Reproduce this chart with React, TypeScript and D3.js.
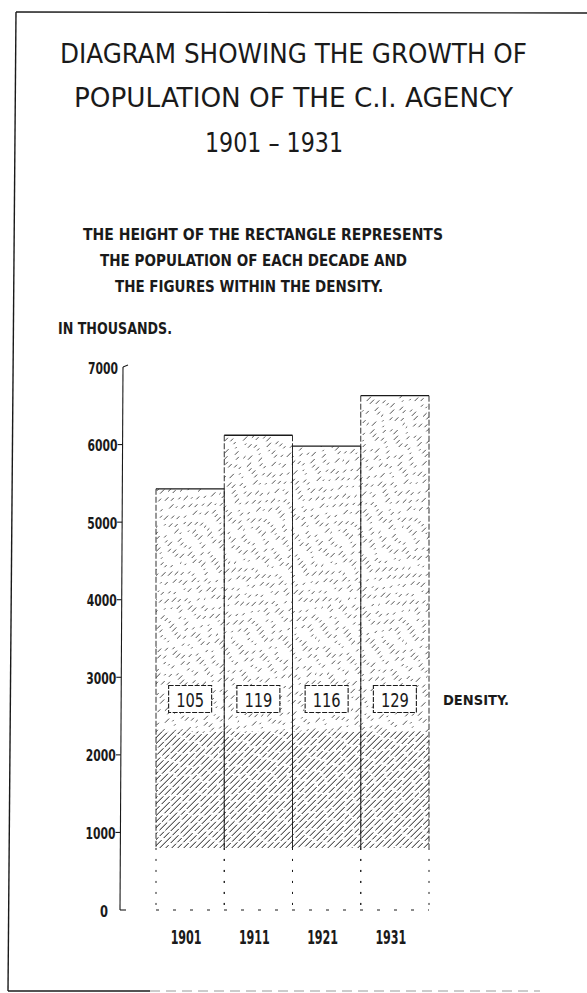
import * as d3 from "d3";

const years = ["1901", "1911", "1921", "1931"];
const population = [5430, 6120, 5980, 6630]; // thousands
const density = [105, 119, 116, 129];
const yTicks = [0, 1000, 2000, 3000, 4000, 5000, 6000, 7000];

const titleLines = [
  "DIAGRAM SHOWING THE GROWTH OF",
  "POPULATION OF THE C.I. AGENCY",
  "1901 – 1931",
];
const noteLines = [
  "THE HEIGHT OF THE RECTANGLE REPRESENTS",
  "THE POPULATION OF EACH DECADE AND",
  "THE FIGURES WITHIN THE DENSITY.",
];

const INK = "#1a1a1a";
const HAND = "'DejaVu Sans Condensed', 'DejaVu Sans', sans-serif";

// dash styles for the hand hatching (cycled line by line)
const lightDashes = ["4 9 3 12", "3 10 6 7", "6 11 2 9", "2 8 4 10 5 9", "4 13 5 6"];
const denseDashes = ["16 2 9 2", "11 3", "20 2 6 2", "8 2 13 3"];

export default function App() {
  const width = 587;
  const height = 993;

  const y = d3.scaleLinear().domain([0, 7000]).range([910, 367]);
  const x = d3.scaleBand<string>().domain(years).range([156, 429]).padding(0);
  const bw = x.bandwidth();

  // where the hatching stops and the dense band starts
  const hatchFloor = 800;
  const denseTop = 2300;
  const densityLevel = 2720;

  const xl = x.range()[0];
  const xr = x.range()[1];
  const yTop = y(d3.max(population)!);
  const yBot = y(hatchFloor);
  const step = 6;
  const cs = d3.range(xl + yTop, xr + yBot + step, step);

  const titleGeom = [
    { x1: 60, x2: 527, base: 63 },
    { x1: 74, x2: 513, base: 107 },
    { x1: 205, x2: 343, base: 152 },
  ];
  const noteGeom = [
    { x1: 83, x2: 443, base: 240 },
    { x1: 100, x2: 407, base: 266 },
    { x1: 115, x2: 383, base: 292 },
  ];

  return (
    <div style={{ position: "absolute", left: 0, top: 0, background: "#fff" }}>
      <svg width={width} height={height} viewBox={`0 0 ${width} ${height}`}>
        <defs>
          <clipPath id="clipLight">
            {years.map((yr, i) => (
              <rect key={yr} x={x(yr)!} y={y(population[i])} width={bw} height={y(denseTop) - y(population[i])} />
            ))}
          </clipPath>
          <clipPath id="clipDense">
            {years.map((yr) => (
              <rect key={yr} x={x(yr)!} y={y(denseTop)} width={bw} height={y(hatchFloor) - y(denseTop)} />
            ))}
          </clipPath>
        </defs>
        <rect width={width} height={height} fill="#fff" />

        {/* frame */}
        <line x1={16} y1={12} x2={8} y2={991} stroke={INK} strokeWidth={1.4} />
        <line x1={16} y1={12} x2={587} y2={13} stroke={INK} strokeWidth={1.4} />
        <line x1={8} y1={991} x2={150} y2={991} stroke={INK} strokeWidth={1.4} />
        <line x1={150} y1={991} x2={540} y2={991} stroke="#999" strokeWidth={1} strokeDasharray="10 6" />

        {/* title */}
        {titleLines.map((t, i) => (
          <text
            key={t}
            x={titleGeom[i].x1}
            y={titleGeom[i].base}
            textLength={titleGeom[i].x2 - titleGeom[i].x1}
            lengthAdjust="spacingAndGlyphs"
            fontFamily={HAND}
            fontSize={27}
            fill={INK}
          >
            {t}
          </text>
        ))}

        {noteLines.map((t, i) => (
          <text
            key={t}
            x={noteGeom[i].x1}
            y={noteGeom[i].base}
            textLength={noteGeom[i].x2 - noteGeom[i].x1}
            lengthAdjust="spacingAndGlyphs"
            fontFamily={HAND}
            fontWeight="bold"
            fontSize={15}
            fill={INK}
          >
            {t}
          </text>
        ))}

        <text x={58} y={334} textLength={114} lengthAdjust="spacingAndGlyphs" fontFamily={HAND} fontWeight="bold" fontSize={15} fill={INK}>
          IN THOUSANDS.
        </text>

        {/* hatching, upper light part */}
        <g clipPath="url(#clipLight)">
          {cs.map((c, i) => (
            <line
              key={"h" + i}
              x1={c - yBot}
              y1={yBot}
              x2={c - yTop}
              y2={yTop}
              stroke={INK}
              strokeWidth={0.9}
              strokeDasharray={lightDashes[i % lightDashes.length]}
              strokeDashoffset={(i * 11) % 23}
              opacity={0.85}
            />
          ))}
        </g>
        {/* hatching, lower dense part */}
        <g clipPath="url(#clipDense)">
          {cs.map((c, i) => (
            <line
              key={"d" + i}
              x1={c - yBot}
              y1={yBot}
              x2={c - yTop}
              y2={yTop}
              stroke={INK}
              strokeWidth={1}
              strokeDasharray={denseDashes[i % denseDashes.length]}
              strokeDashoffset={(i * 7) % 19}
            />
          ))}
        </g>

        {/* bar outlines */}
        {years.map((yr, i) => {
          const x0 = x(yr)!;
          const top = y(population[i]);
          return (
            <g key={yr}>
              <line x1={x0} y1={top} x2={x0 + bw} y2={top} stroke={INK} strokeWidth={1.3} />
              <line x1={x0} y1={top} x2={x0} y2={y(hatchFloor)} stroke={INK} strokeWidth={0.9} strokeDasharray="6 2" />
              <line x1={x0 + bw} y1={top} x2={x0 + bw} y2={y(hatchFloor)} stroke={INK} strokeWidth={0.9} strokeDasharray="6 2" />
              <line x1={x0} y1={y(hatchFloor)} x2={x0} y2={y(0)} stroke={INK} strokeWidth={1} strokeDasharray="2 9" />
              <line x1={x0 + bw} y1={y(hatchFloor)} x2={x0 + bw} y2={y(0)} stroke={INK} strokeWidth={1} strokeDasharray="2 9" />
            </g>
          );
        })}
        <line x1={xl} y1={y(0)} x2={xr} y2={y(0)} stroke={INK} strokeWidth={1.2} strokeDasharray="3 14" />

        {/* density boxes */}
        {years.map((yr, i) => {
          const cx = x(yr)! + bw / 2;
          const cy = y(densityLevel);
          return (
            <g key={"b" + yr}>
              <rect x={cx - 21.5} y={cy - 13.5} width={43} height={27} fill="#fff" stroke={INK} strokeWidth={1.1} strokeDasharray="5 1.5" />
              <text
                x={cx - 14}
                y={cy + 7.5}
                textLength={28}
                lengthAdjust="spacingAndGlyphs"
                fontFamily={HAND}
                fontSize={19}
                fill={INK}
              >
                {density[i]}
              </text>
            </g>
          );
        })}
        <text x={443} y={705} textLength={66} lengthAdjust="spacingAndGlyphs" fontFamily={HAND} fontWeight="bold" fontSize={14.5} fill={INK}>
          DENSITY.
        </text>

        {/* y axis */}
        <line x1={123} y1={y(7000)} x2={120} y2={y(0)} stroke={INK} strokeWidth={1.1} />
        {yTicks.map((t) => {
          const ty = y(t);
          const ax = 123 - (3 * (7000 - t)) / 7000;
          const label = String(t);
          const w = label.length === 1 ? 8 : 30;
          const right = t === 0 ? 108 : ax - 5;
          return (
            <g key={t}>
              {t === 7000 ? (
                <line x1={ax} y1={ty} x2={ax + 5} y2={ty - 2} stroke={INK} strokeWidth={1.1} />
              ) : t === 0 ? (
                <line x1={ax} y1={ty} x2={ax + 6} y2={ty} stroke={INK} strokeWidth={1.1} />
              ) : (
                <line x1={ax - 5} y1={ty} x2={ax} y2={ty} stroke={INK} strokeWidth={1.1} />
              )}
              <text
                x={right - w}
                y={ty + 6.5}
                textLength={w}
                lengthAdjust="spacingAndGlyphs"
                fontFamily={HAND}
                fontWeight="bold"
                fontSize={16}
                fill={INK}
              >
                {label}
              </text>
            </g>
          );
        })}

        {/* year labels */}
        {years.map((yr) => (
          <text
            key={"l" + yr}
            x={x(yr)! + bw / 2 - 4 - 15.5}
            y={944}
            textLength={31}
            lengthAdjust="spacingAndGlyphs"
            fontFamily={HAND}
            fontWeight="bold"
            fontSize={19}
            fill={INK}
          >
            {yr}
          </text>
        ))}
      </svg>
    </div>
  );
}
